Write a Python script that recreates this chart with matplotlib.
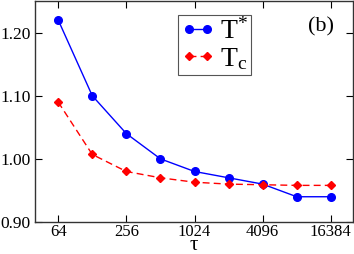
import matplotlib
matplotlib.use("Agg")
import matplotlib.pyplot as plt
from matplotlib.ticker import FixedLocator, FixedFormatter, NullLocator

plt.rcParams['font.family'] = ['Liberation Serif', 'DejaVu Serif']
plt.rcParams['mathtext.fontset'] = 'custom'
plt.rcParams['mathtext.rm'] = 'Liberation Serif'
plt.rcParams['mathtext.it'] = 'Liberation Serif:italic'

tau = [64, 128, 256, 512, 1024, 2048, 4096, 8192, 16384]
t_star = [1.22, 1.10, 1.04, 1.00, 0.98, 0.97, 0.96, 0.94, 0.94]
t_c = [1.09, 1.007, 0.98, 0.97, 0.963, 0.96, 0.959, 0.958, 0.958]
xticks = [64, 256, 1024, 4096, 16384]
yticks = [0.90, 1.00, 1.10, 1.20]

fig = plt.figure(figsize=(3.54, 2.54), dpi=100)
ax = fig.add_axes([35/354, 32/254, 318/354, 221/254])

ax.plot(tau, t_star, color='blue', lw=1.0, marker='o', ms=5.5, label=r'T$^{*}$')
ax.plot(tau, t_c, color='red', lw=1.0, ls=(0, (5, 3)), marker='D', ms=4.5, label=r'T$_{\rm c}$')

ax.set_xscale('log', base=2)
ax.set_xlim(2**5.32, 2**14.65)
ax.set_ylim(0.9, 1.25)
ax.xaxis.set_major_locator(FixedLocator(xticks))
ax.xaxis.set_major_formatter(FixedFormatter([str(v) for v in xticks]))
ax.xaxis.set_minor_locator(NullLocator())
ax.set_yticks(yticks)
ax.set_yticklabels([f"{v:.2f}" for v in yticks])
ax.tick_params(direction='in', top=True, right=True, labelsize=12.5, length=5, width=0.8, pad=3)
ax.tick_params(axis='x', labelsize=12, pad=1.5)
for s in ax.spines.values():
    s.set_linewidth(1.0)
    s.set_color('#333333')

fig.text(194/354, 1 - 246/254, 'τ', fontsize=15, ha='center', va='center')
ax.text(0.90, 0.885, '(b)', transform=ax.transAxes, fontsize=16, ha='center', va='center')

leg = ax.legend(loc='upper left', bbox_to_anchor=(0.45, 0.935), numpoints=2,
                handlelength=1.25, handletextpad=0.15, borderpad=0.1, labelspacing=0.05,
                borderaxespad=0, fontsize=20, fancybox=False, framealpha=1)
leg.get_frame().set_edgecolor('#555555')
leg.get_frame().set_linewidth(0.8)

fig.savefig('out.png', dpi=100)
